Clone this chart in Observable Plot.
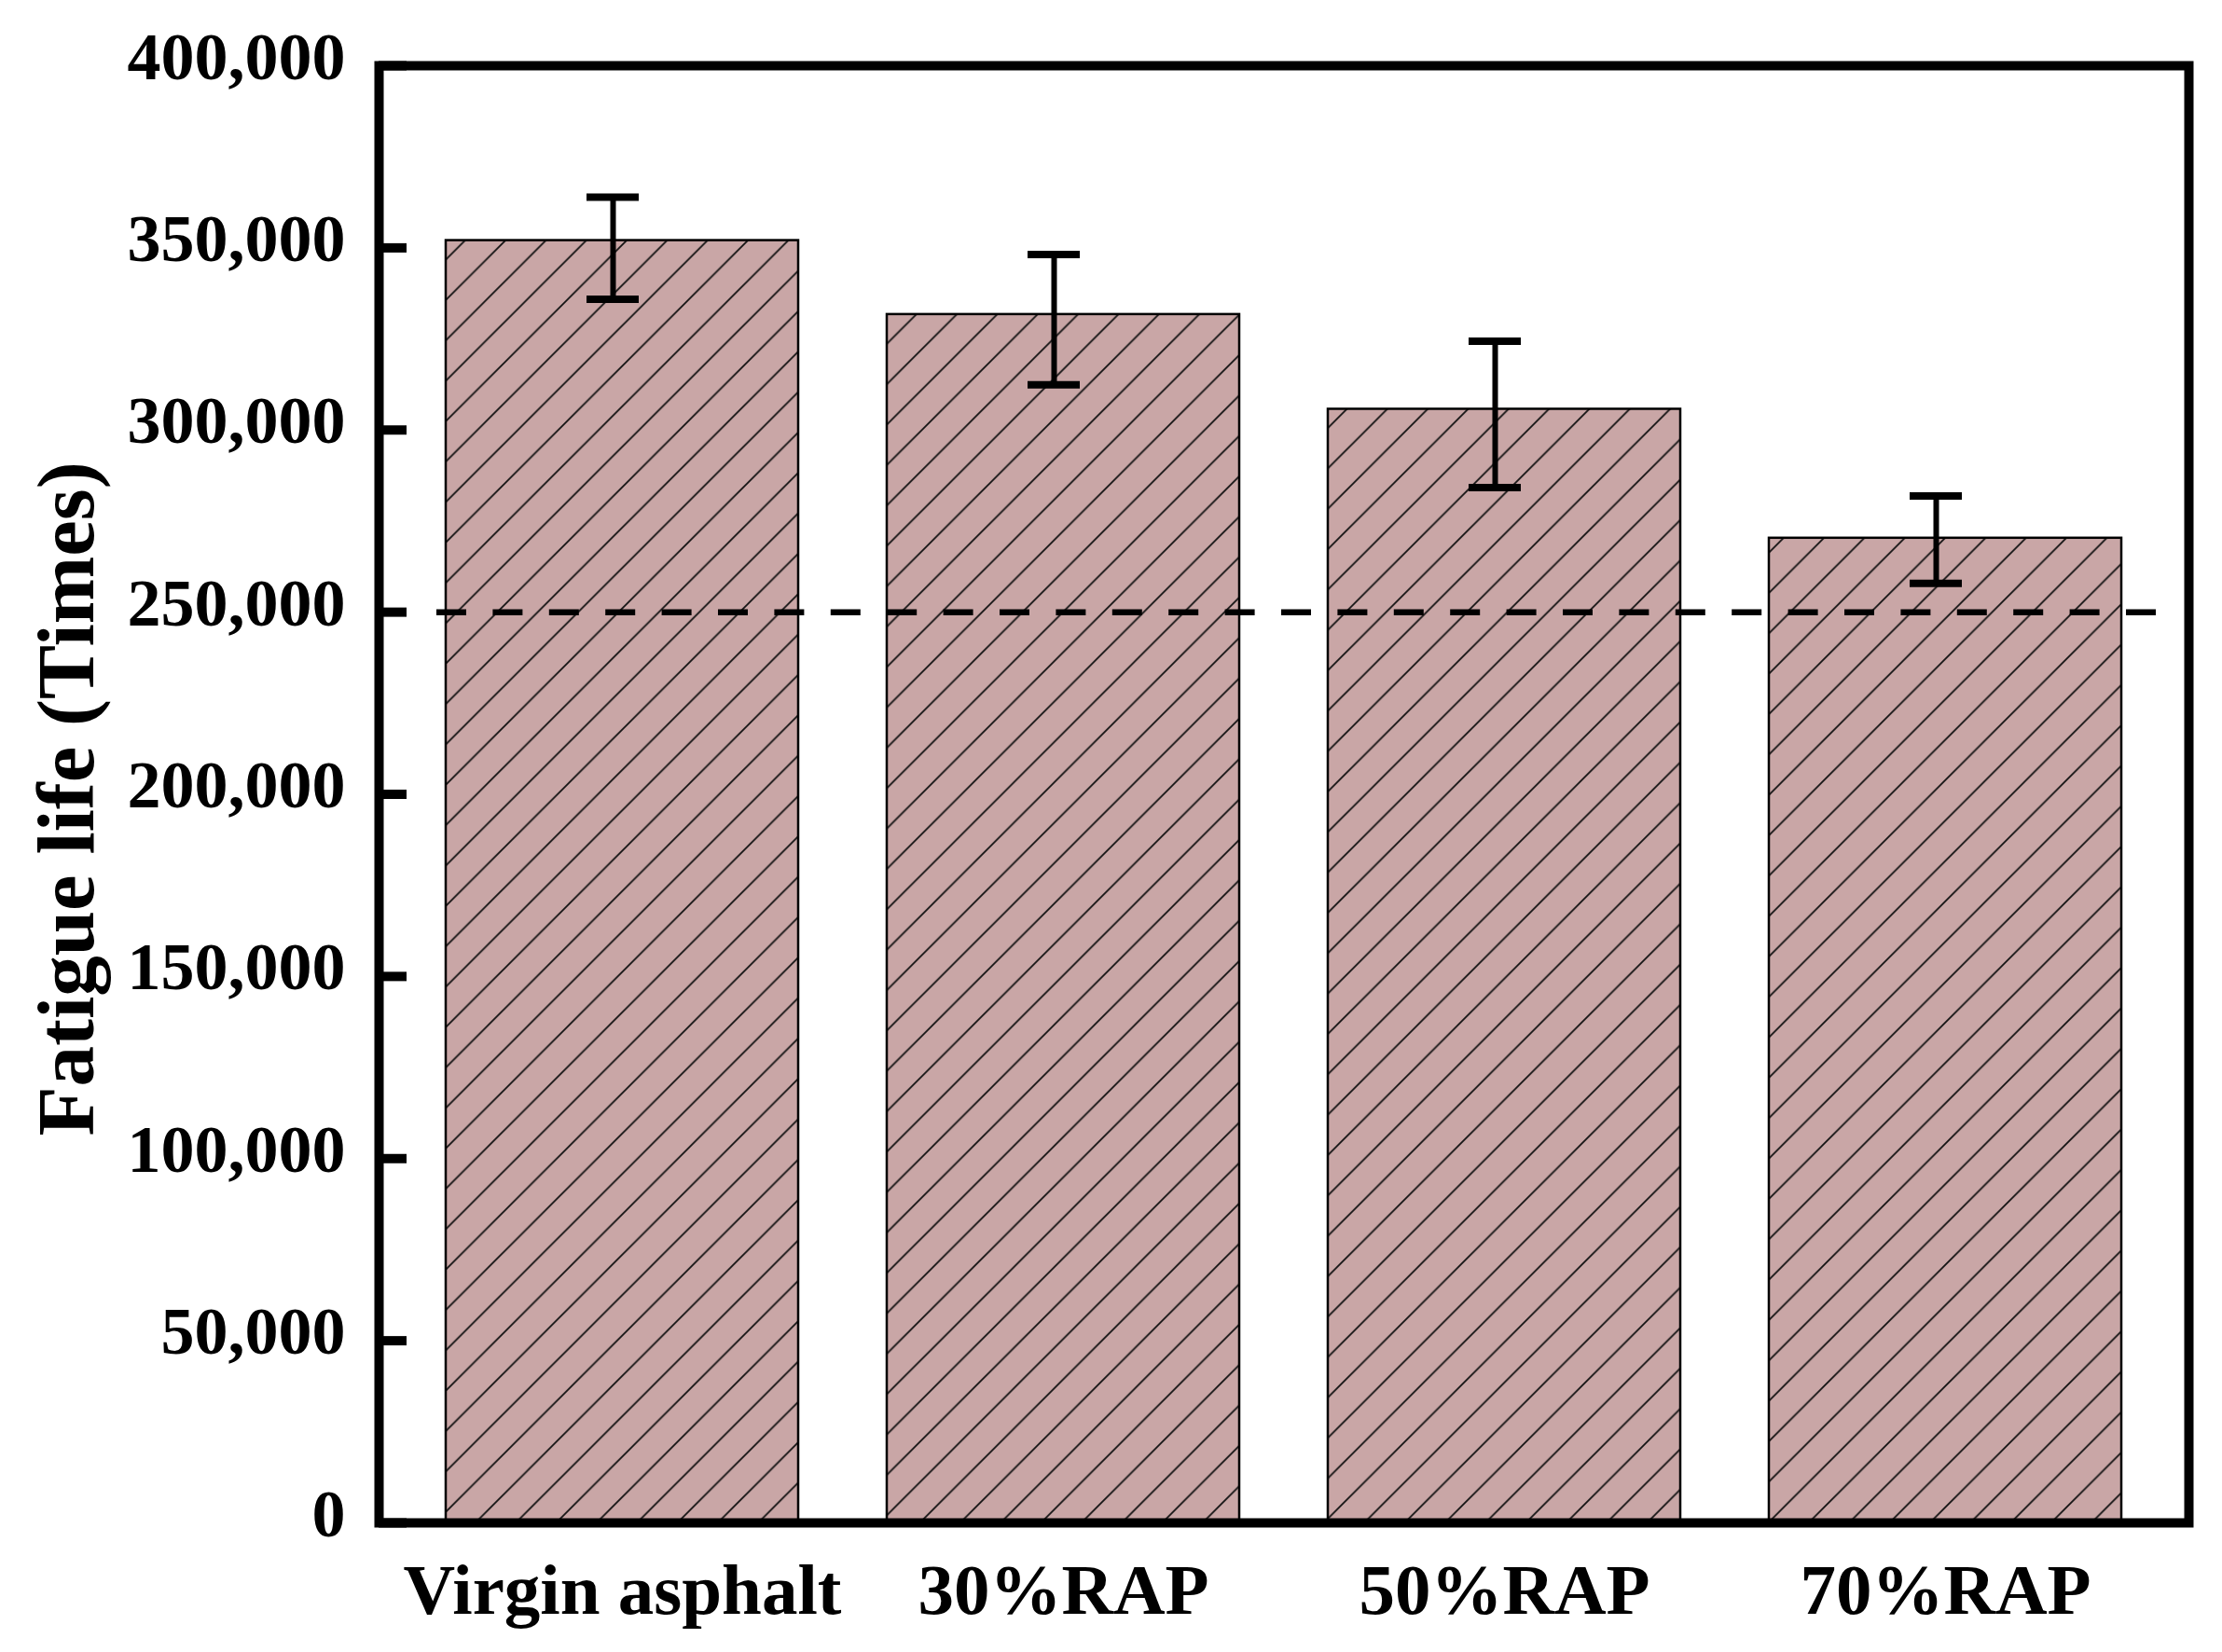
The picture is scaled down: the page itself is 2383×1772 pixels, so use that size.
<!DOCTYPE html>
<html>
<head>
<meta charset="utf-8">
<script src="https://cdn.jsdelivr.net/npm/d3@7"></script>
<script src="https://cdn.jsdelivr.net/npm/@observablehq/plot@0.6"></script>
<style>
  html, body { margin: 0; padding: 0; background: #fff; }
  #chart svg { display: block; }
</style>
</head>
<body>
<div id="chart"></div>
<script>
const categories = ["Virgin asphalt", "30%RAP", "50%RAP", "70%RAP"];
const fatigueLife = [352000, 331700, 305700, 270300];
const errLow = [335900, 312400, 284200, 257900];
const errHigh = [363900, 348200, 324400, 281900];
const threshold = [250000];
const yTicks = [0, 50000, 100000, 150000, 200000, 250000, 300000, 350000, 400000];
const yTitle = "Fatigue life (Times)";

const data = categories.map((c, i) => ({cat: c, value: fatigueLife[i], lo: errLow[i], hi: errHigh[i]}));

const W = 2383, H = 1772;
const mL = 406, mR = 36, mT = 70, mB = 139;
const plotW = W - mL - mR;
const font = "'Liberation Serif', 'Times New Roman', serif";

const chart = Plot.plot({
  width: W,
  height: H,
  marginLeft: mL,
  marginRight: mR,
  marginTop: mT,
  marginBottom: mB,
  style: {fontFamily: font, fontWeight: "bold", background: "#fff", color: "#000"},
  x: {domain: categories, paddingInner: 0.2, paddingOuter: 0.15, label: null},
  y: {domain: [0, 400000], label: null},
  marks: [
    Plot.barY(data, {x: "cat", y: "value", fill: "url(#hatch)", stroke: "#000", strokeWidth: 2.5}),
    Plot.ruleY(threshold, {stroke: "#000", strokeWidth: 6.5, strokeDasharray: "32,28.4", insetLeft: 62, insetRight: 35}),
    Plot.ruleX(data, {x: "cat", y1: "lo", y2: "hi", stroke: "#000", strokeWidth: 6, dx: -10}),
    Plot.tickY(data, {x: "cat", y: "hi", stroke: "#000", strokeWidth: 8, inset: 161, dx: -10}),
    Plot.tickY(data, {x: "cat", y: "lo", stroke: "#000", strokeWidth: 8, inset: 161, dx: -10}),
    Plot.ruleY(yTicks, {stroke: "#000", strokeWidth: 10, insetRight: plotW - 30}),
    Plot.frame({stroke: "#000", strokeWidth: 10}),
    Plot.axisY({ticks: yTicks, tickSize: 0, tickPadding: 36, tickFormat: d3.format(","), fontSize: 72, fontWeight: "bold", fontFamily: font, dy: -9, label: null}),
    Plot.axisX({tickSize: 0, tickPadding: 43, fontSize: 77, fontWeight: "bold", fontFamily: font, label: null}),
    Plot.text([yTitle], {frameAnchor: "left", textAnchor: "middle", rotate: -90, dx: -334, dy: 5, fontSize: 87, fontWeight: "bold", fontFamily: font, fill: "#000"})
  ]
});

const w = 43.33;
d3.select(chart).insert("defs", ":first-child").html(`
  <pattern id="hatch" patternUnits="userSpaceOnUse" x="20" y="0" width="${w}" height="${w}">
    <rect x="0" y="0" width="${w}" height="${w}" fill="#c9a6a6"></rect>
    <path d="M-2,2 L2,-2 M0,${w} L${w},0 M${w-2},${w+2} L${w+2},${w-2}" stroke="#111" stroke-width="1.8"></path>
  </pattern>`);

document.getElementById("chart").appendChild(chart);
</script>
</body>
</html>
